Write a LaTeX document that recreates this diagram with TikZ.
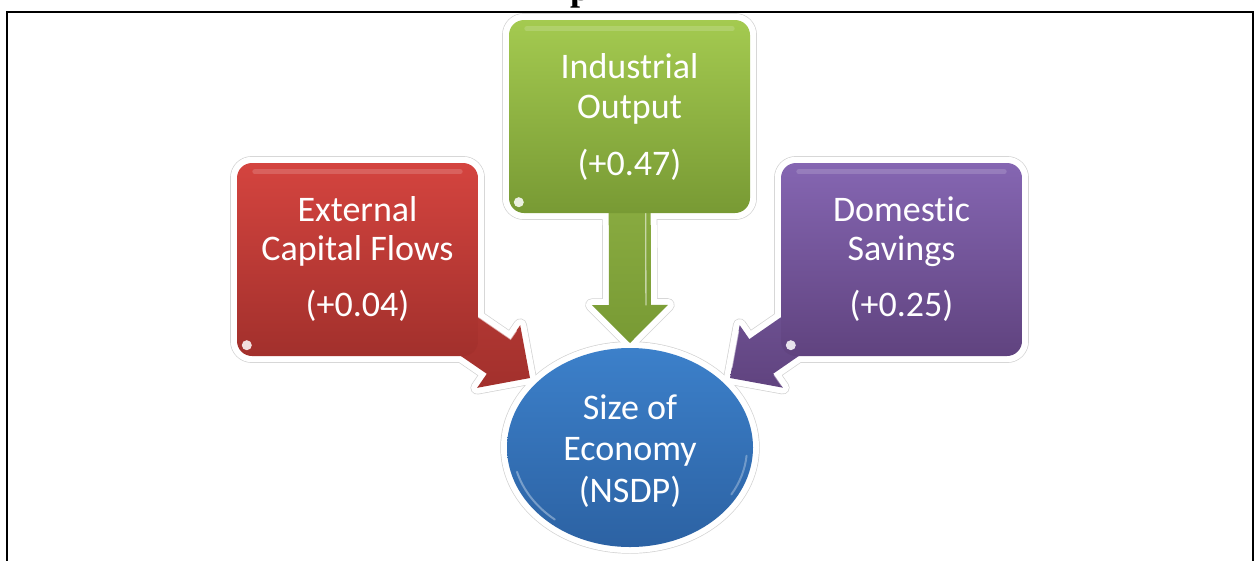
\documentclass[tikz,border=0pt]{standalone}
\usepackage{fontspec}
\newfontfamily\boxfont{Carlito}[Ligatures=NoCommon]
\newfontfamily\headfont{Liberation Serif}
\usetikzlibrary{calc,shapes.geometric}

\definecolor{redtop}{HTML}{D4443F}
\definecolor{redbot}{HTML}{A2302C}
\definecolor{greentop}{HTML}{A4CA50}
\definecolor{greenbot}{HTML}{789A34}
\definecolor{purptop}{HTML}{8566B2}
\definecolor{purpbot}{HTML}{60437F}
\definecolor{bluetop}{HTML}{3C80CA}
\definecolor{bluebot}{HTML}{2C62A3}
\definecolor{halogray}{HTML}{D2D2D2}

\pgfdeclarelayer{halo}
\pgfdeclarelayer{halowhite}
\pgfdeclarelayer{base}
\pgfdeclarelayer{arrowlayer}
\pgfsetlayers{halo,halowhite,base,arrowlayer,main}

% corner points of a block arrow running from #2 to the tip #3
\newcommand\blockarrowpoints[3]{%
  \coordinate (#1-h)  at ($(#3)!38pt!(#2)$);
  \coordinate (#1-s1) at ($(#2)!21pt!90:(#3)$);
  \coordinate (#1-s2) at ($(#2)!21pt!-90:(#3)$);
  \coordinate (#1-a1) at ($(#1-h)!21pt!90:(#3)$);
  \coordinate (#1-a2) at ($(#1-h)!21pt!-90:(#3)$);
  \coordinate (#1-b1) at ($(#1-h)!38pt!90:(#3)$);
  \coordinate (#1-b2) at ($(#1-h)!38pt!-90:(#3)$);
}
\newcommand\blockarrowpath[2]{(#1-s1) -- (#1-a1) -- (#1-b1) -- (#2) -- (#1-b2) -- (#1-a2) -- (#1-s2) -- cycle}

\begin{document}
\begin{tikzpicture}[x=1pt,y=-1pt,
  factor/.style={rectangle, rounded corners=15pt, minimum width=241pt,
    minimum height=193pt, inner sep=0pt},
  label text/.style={text=white, font=\boxfont\fontsize{36}{40}\selectfont,
    anchor=base, inner sep=0pt},
  haloline/.style={draw=halogray, line width=13.4pt, line join=round},
  halofill/.style={draw=white, fill=white, line width=12pt, line join=round},
  gloss/.style={white, opacity=0.16, line width=5pt, line cap=round},
  spot/.style={white, opacity=0.85},
  bevel/.style={white, opacity=0.55, line width=1.3pt, line cap=round},
]
\useasboundingbox (0,0) rectangle (1257,560);

% page frame and the clipped heading above it
\begin{scope}
  \clip (0,0) rectangle (1257,10);
  \node[font=\headfont\bfseries\fontsize{36}{40}\selectfont, anchor=base west,
    inner sep=0pt] (heading) at (570,0) {p};
\end{scope}
\draw[line width=2pt] (7,562) -- (7,11.5) -- (1253,11.5) -- (1253,562);

% factor boxes
\node[factor, top color=redtop, bottom color=redbot] (ecf) at (357.5,259.5) {};
\node[factor, top color=greentop, bottom color=greenbot] (ind) at (629.5,116.5) {};
\node[factor, top color=purptop, bottom color=purpbot] (dom) at (901.5,259.5) {};

% the economy
\begin{pgfonlayer}{base}
  \node[ellipse, minimum width=246pt, minimum height=199pt, inner sep=0pt,
    top color=bluetop, bottom color=bluebot] (eco) at (630,447.5) {};
  \draw[white, opacity=0.35, line width=2pt, line cap=round]
    ($(eco.center)+({117*cos(195)},{-94*sin(195)})$)
    arc[start angle=195, end angle=230, x radius=117pt, y radius=94pt];
  \draw[white, opacity=0.3, line width=2pt, line cap=round]
    ($(eco.center)+({117*cos(-5)},{-94*sin(-5)})$)
    arc[start angle=-5, end angle=-30, x radius=117pt, y radius=94pt];
\end{pgfonlayer}

% arrow tips
\coordinate (ecf-tip) at (530,378);
\coordinate (ind-tip) at (630,343);
\coordinate (dom-tip) at (730,378);
\blockarrowpoints{ra}{ecf.center}{ecf-tip}
\blockarrowpoints{ga}{ind.center}{ind-tip}
\blockarrowpoints{pa}{dom.center}{dom-tip}

\begin{pgfonlayer}{arrowlayer}
  \path[top color=redtop!90!black, bottom color=redbot] \blockarrowpath{ra}{ecf-tip};
  \path[top color=greentop!90!black, bottom color=greenbot] \blockarrowpath{ga}{ind-tip};
  \path[top color=purptop!90!black, bottom color=purpbot] \blockarrowpath{pa}{dom-tip};
  % bevel highlights on the arrows
  \draw[bevel] ($(ra-s1)!0.5!(ra-a1)$) -- (ra-a1) -- ($(ra-a1)!0.6!(ra-b1)$);
  \draw[bevel] ($(ga-s1)+(-5,0)$) -- ($(ga-a1)+(-5,0)$);
  \draw[bevel] ($(pa-b2)!0.12!(dom-tip)$) -- ($(pa-b2)!0.8!(dom-tip)$);
  \draw[bevel, opacity=0.35] ($(pa-b1)!0.15!(pa-a1)$) -- ($(pa-b1)!0.9!(pa-a1)$);
\end{pgfonlayer}

% soft outline around boxes, arrows and the economy
\begin{pgfonlayer}{halo}
  \path[haloline, rounded corners=15pt] (ecf.north west) rectangle (ecf.south east);
  \path[haloline, rounded corners=15pt] (ind.north west) rectangle (ind.south east);
  \path[haloline, rounded corners=15pt] (dom.north west) rectangle (dom.south east);
  \path[haloline] (eco.center) ellipse[x radius=123pt, y radius=99.5pt];
  \path[haloline] \blockarrowpath{ra}{ecf-tip};
  \path[haloline] \blockarrowpath{ga}{ind-tip};
  \path[haloline] \blockarrowpath{pa}{dom-tip};
\end{pgfonlayer}
\begin{pgfonlayer}{halowhite}
  \path[halofill, rounded corners=15pt] (ecf.north west) rectangle (ecf.south east);
  \path[halofill, rounded corners=15pt] (ind.north west) rectangle (ind.south east);
  \path[halofill, rounded corners=15pt] (dom.north west) rectangle (dom.south east);
  \path[halofill] (eco.center) ellipse[x radius=123pt, y radius=99.5pt];
  \path[halofill] \blockarrowpath{ra}{ecf-tip};
  \path[halofill] \blockarrowpath{ga}{ind-tip};
  \path[halofill] \blockarrowpath{pa}{dom-tip};
\end{pgfonlayer}

% gloss on the boxes
\foreach \b in {ecf,ind,dom} {
  \draw[gloss] ($(\b.north west)+(18,9)$) -- ($(\b.north east)+(-18,9)$);
  \fill[spot] ($(\b.south west)+(10,-11)$) circle[radius=5pt];
}

% texts
\node[label text] (ecf-l1) at (357.5,221) {External};
\node[label text] (ecf-l2) at (357.5,260) {Capital Flows};
\node[label text] (ecf-l3) at (357.5,316) {(+0.04)};
\node[label text] (ind-l1) at (629.5,78) {Industrial};
\node[label text] (ind-l2) at (629.5,118) {Output};
\node[label text] (ind-l3) at (629.5,175) {(+0.47)};
\node[label text] (dom-l1) at (901.5,221) {Domestic};
\node[label text] (dom-l2) at (901.5,260) {Savings};
\node[label text] (dom-l3) at (901.5,316) {(+0.25)};
\node[label text] (eco-l1) at (630,419) {Size of};
\node[label text] (eco-l2) at (630,460) {Economy};
\node[label text] (eco-l3) at (630,502) {(NSDP)};
\end{tikzpicture}
\end{document}
